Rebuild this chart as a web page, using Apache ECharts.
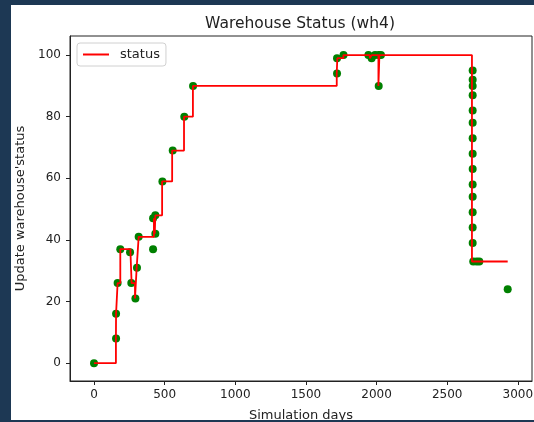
<!DOCTYPE html>
<html>
<head>
<meta charset="utf-8">
<script src="https://cdn.jsdelivr.net/npm/echarts@6/dist/echarts.min.js"></script>
<style>
  html, body { margin: 0; padding: 0; }
  body { width: 534px; height: 422px; background: #1d3854; position: relative; overflow: hidden; }
  #chart { position: absolute; left: 11px; top: 5px; width: 523px; height: 415px; background: #fff; }
</style>
</head>
<body>
<div id="chart"></div>
<script>
// step line (status changes over time)
var lineDays   = [0, 155, 156, 167, 186, 258, 266, 290, 302, 316, 424, 430, 434, 482, 553, 637, 700, 1718, 1722, 1765, 1952, 1965, 2013, 2020, 2675, 2928];
var lineStatus = [0, 8, 16, 26, 37, 36, 26, 21, 31, 41, 47, 42, 48, 59, 69, 80, 90, 94, 99, 100, 99, 100, 90, 100, 33, 33];

// observed points
var pointDays = [0, 156, 156, 167, 186, 255, 264, 293, 304, 316, 418, 434, 418, 434, 484, 557, 639, 701,
  1720, 1720, 1766, 1942, 1965, 1989, 2015, 2015, 2031,
  2680, 2680, 2680, 2680, 2680, 2680, 2680, 2680, 2680, 2680, 2680, 2680, 2680, 2680,
  2684, 2708, 2727, 2928];
var pointStatus = [0, 8, 16, 26, 37, 36, 26, 21, 31, 41, 37, 42, 47, 48, 59, 69, 80, 90,
  94, 99, 100, 100, 99, 100, 100, 90, 100,
  95, 92, 90, 87, 82, 78, 73, 68, 63, 58, 54, 49, 44, 39,
  33, 33, 33, 24];

var xTicks = [0, 500, 1000, 1500, 2000, 2500, 3000];
var yTicks = [0, 20, 40, 60, 80, 100];

var chart = echarts.init(document.getElementById('chart'));
var font = 'DejaVu Sans';

chart.setOption({
  animation: false,
  title: {
    text: 'Warehouse Status (wh4)',
    left: 284, top: 6, textAlign: 'center',
    textStyle: { fontFamily: font, fontSize: 15.5, fontWeight: 'normal', color: '#222' }
  },
  legend: {
    left: 66, top: 38,
    padding: [5, 6, 5, 6],
    backgroundColor: '#fff',
    borderColor: '#d0d0d0', borderWidth: 1, borderRadius: 3,
    itemWidth: 26, itemHeight: 2, itemGap: 6,
    data: [{ name: 'status', icon: 'rect' }],
    textStyle: { fontFamily: font, fontSize: 13, color: '#222', padding: [0, 0, 0, 6] }
  },
  grid: {
    left: 59, right: 2, top: 31, bottom: 39,
    outerBoundsMode: 'none',
    show: true, borderColor: '#222', borderWidth: 1
  },
  xAxis: {
    type: 'value', min: -170, max: 3100,
    name: 'Simulation days', nameLocation: 'middle', nameGap: 28,
    nameTextStyle: { fontFamily: font, fontSize: 13, color: '#222' },
    axisLine: { show: true, onZero: false, lineStyle: { color: '#222' } },
    axisTick: { show: true, length: 4, customValues: xTicks, lineStyle: { color: '#222' } },
    axisLabel: {
      customValues: xTicks, margin: 8, fontFamily: font, fontSize: 12, color: '#222',
      formatter: function (v) { return String(v); }
    },
    splitLine: { show: false }
  },
  yAxis: {
    type: 'value', min: -5.8, max: 106.2,
    name: "Update warehouse'status", nameLocation: 'middle', nameGap: 37,
    nameTextStyle: { fontFamily: font, fontSize: 13, color: '#222' },
    axisLine: { show: true, onZero: false, lineStyle: { color: '#222' } },
    axisTick: { show: true, length: 4, customValues: yTicks, lineStyle: { color: '#222' } },
    axisLabel: {
      customValues: yTicks, margin: 9, fontFamily: font, fontSize: 12, color: '#222',
      formatter: function (v) { return String(v); }
    },
    splitLine: { show: false }
  },
  series: [
    {
      name: 'points', type: 'scatter', z: 2,
      symbolSize: 8,
      itemStyle: { color: '#008000', opacity: 1 },
      data: pointDays.map(function (d, i) { return [d, pointStatus[i]]; })
    },
    {
      name: 'status', type: 'line', z: 3,
      step: 'end', showSymbol: false, symbol: 'none',
      color: '#ff0000',
      lineStyle: { color: '#ff0000', width: 1.8 },
      data: lineDays.map(function (d, i) { return [d, lineStatus[i]]; })
    }
  ]
});
</script>
</body>
</html>
